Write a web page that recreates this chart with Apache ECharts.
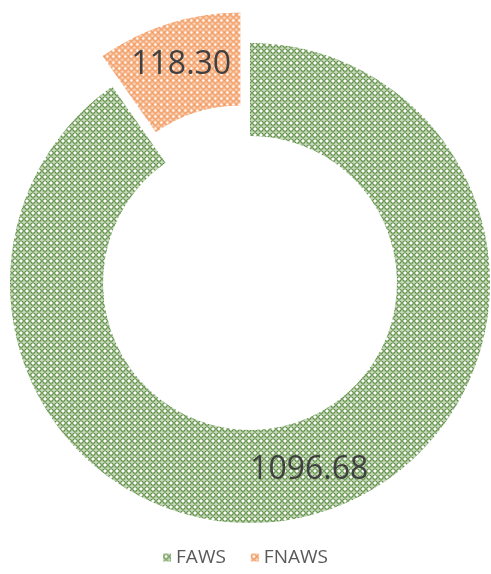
<!DOCTYPE html>
<html>
<head>
<meta charset="utf-8">
<script src="https://cdn.jsdelivr.net/npm/echarts@6/dist/echarts.min.js"></script>
<style>
  html, body { margin: 0; padding: 0; background: #fff; }
  #chart { width: 491px; height: 574px; }
</style>
</head>
<body>
<div id="chart"></div>
<script>
const categories = ["FAWS", "FNAWS"];
const values = [1096.68, 118.30];
const exploded = [false, true];
const baseColors = ["#4f8531", "#ee7a2c"];

// ring lattice tile, like the Excel pattern fill
function makeTile(color) {
  const size = 6;
  const c = document.createElement("canvas");
  c.width = size;
  c.height = size;
  const ctx = c.getContext("2d");
  ctx.strokeStyle = color;
  ctx.fillStyle = color;
  ctx.lineWidth = 1.1;
  ctx.beginPath();
  ctx.arc(3, 3, 2.3, 0, Math.PI * 2);
  ctx.stroke();
  ctx.globalAlpha = 0.7;
  [[0, 0], [size, 0], [0, size], [size, size]].forEach(([x, y]) => {
    ctx.beginPath();
    ctx.arc(x, y, 0.8, 0, Math.PI * 2);
    ctx.fill();
  });
  return c;
}

const chart = echarts.init(document.getElementById("chart"), null, { renderer: "canvas" });

const option = {
  backgroundColor: "#fff",
  animation: false,
  legend: {
    bottom: 2,
    left: "center",
    icon: "rect",
    itemWidth: 8,
    itemHeight: 8,
    itemGap: 25,
    textStyle: {
      color: "#595959",
      fontSize: 19,
      fontFamily: "Open Sans"
    },
    data: categories
  },
  series: [
    {
      type: "pie",
      center: [250, 283],
      radius: [147, 240],
      startAngle: 90,
      clockwise: true,
      selectedMode: "multiple",
      selectedOffset: 32,
      avoidLabelOverlap: false,
      label: {
        show: true,
        position: "inside",
        color: "#404040",
        fontSize: 32,
        fontFamily: "Open Sans",
        formatter: (p) => p.value.toFixed(2)
      },
      labelLine: { show: false },
      emphasis: { disabled: true },
      data: categories.map((name, i) => ({
        name: name,
        value: values[i],
        selected: exploded[i],
        itemStyle: {
          color: { image: makeTile(baseColors[i]), repeat: "repeat" }
        }
      }))
    }
  ]
};

chart.setOption(option);
</script>
</body>
</html>
